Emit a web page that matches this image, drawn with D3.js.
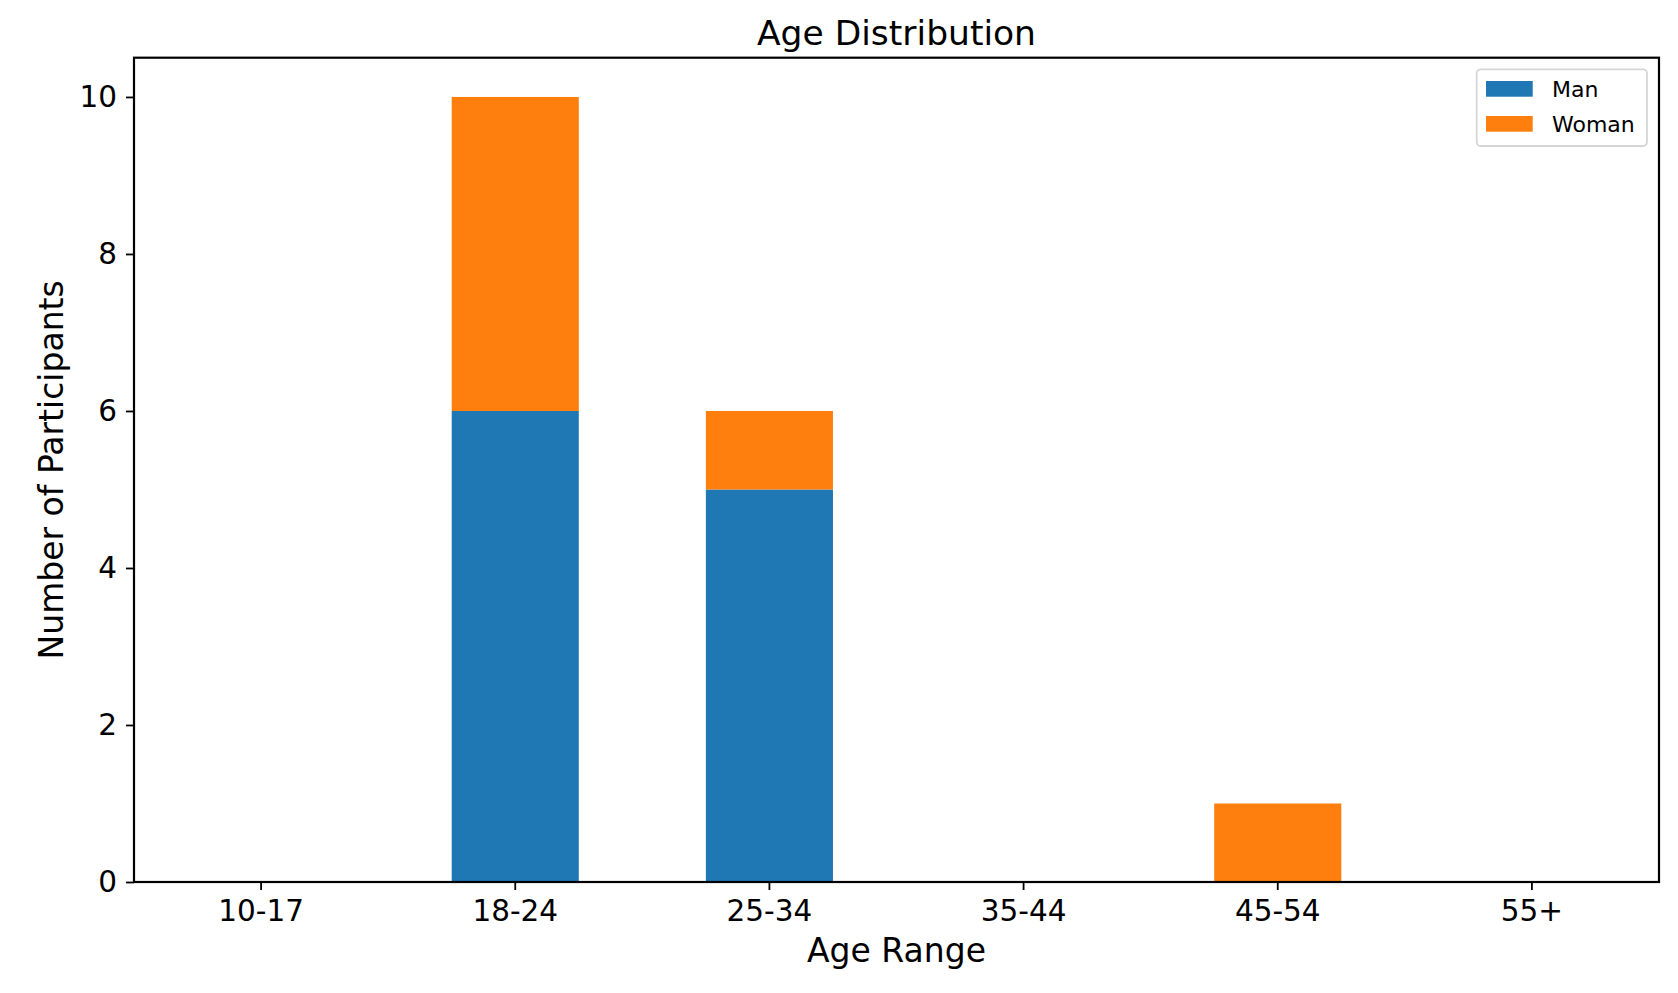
<!DOCTYPE html>
<html>
<head>
<meta charset="utf-8">
<script src="https://cdn.jsdelivr.net/npm/d3@7"></script>
<style>
  body { margin: 0; background: #fff; }
  svg { display: block; font-family: "DejaVu Sans", sans-serif; }
  .axis path, .axis line { stroke: #000; }
  .axis text { font-family: "DejaVu Sans", sans-serif; }
</style>
</head>
<body>
<div id="chart"></div>
<script>
var ageRanges = ['10-17', '18-24', '25-34', '35-44', '45-54', '55+'];
var seriesNames = ['Man', 'Woman'];
var manCounts = [0, 6, 5, 0, 0, 0];
var womanCounts = [0, 4, 1, 0, 1, 0];
var yTicks = [0, 2, 4, 6, 8, 10];
var colors = ['#1f77b4', '#ff7f0e'];

var width = 1678,
    height = 993,
    margin = { top: 57.7, right: 19, bottom: 111, left: 134 },
    plotW = width - margin.left - margin.right,
    plotH = height - margin.top - margin.bottom;

var rows = ageRanges.map(function(a, i) {
  return { range: a, Man: manCounts[i], Woman: womanCounts[i] };
});

var svg = d3.select('#chart')
            .append('svg')
              .attr('width', width)
              .attr('height', height)
            .append('g')
              .attr('transform', 'translate(' + margin.left + ',' + margin.top + ')');

// pandas style: bars of width 0.5, xlim -0.5..n-0.5
var x = d3.scaleBand()
          .domain(ageRanges)
          .range([0, plotW])
          .paddingInner(0.5)
          .paddingOuter(0.25);

var y = d3.scaleLinear()
          .domain([0, 10.5])
          .range([plotH, 0]);

var color = d3.scaleOrdinal().domain(seriesNames).range(colors);

var stacked = d3.stack().keys(seriesNames)(rows);

svg.selectAll('.series')
   .data(stacked)
   .enter()
   .append('g')
     .attr('class', 'series')
     .attr('fill', function(d) { return color(d.key); })
   .selectAll('rect')
   .data(function(d) { return d; })
   .enter()
   .append('rect')
     .attr('x', function(d) { return x(d.data.range); })
     .attr('width', x.bandwidth())
     .attr('y', function(d) { return y(d[1]); })
     .attr('height', function(d) { return y(d[0]) - y(d[1]); });

var xAxis = svg.append('g')
               .attr('class', 'axis')
               .attr('transform', 'translate(0,' + plotH + ')')
               .call(d3.axisBottom(x).tickSize(8).tickPadding(10).tickSizeOuter(0));
xAxis.attr('font-family', null);
xAxis.select('.domain').remove();
xAxis.selectAll('line').attr('stroke-width', 1.8);
xAxis.selectAll('text').attr('font-size', 29.5).attr('fill', '#000');

var yAxis = svg.append('g')
               .attr('class', 'axis')
               .call(d3.axisLeft(y).tickValues(yTicks).tickSize(8).tickPadding(9).tickSizeOuter(0));
yAxis.attr('font-family', null);
yAxis.select('.domain').remove();
yAxis.selectAll('line').attr('stroke-width', 1.8);
yAxis.selectAll('text').attr('font-size', 29.5).attr('fill', '#000');

// frame
svg.append('rect')
   .attr('width', plotW)
   .attr('height', plotH)
   .attr('fill', 'none')
   .attr('stroke', '#000')
   .attr('stroke-width', 2.2);

svg.append('text')
   .attr('x', plotW / 2)
   .attr('y', -12.7)
   .attr('text-anchor', 'middle')
   .attr('font-size', 34.5)
   .text('Age Distribution');

svg.append('text')
   .attr('x', plotW / 2)
   .attr('y', 961.7 - margin.top)
   .attr('text-anchor', 'middle')
   .attr('font-size', 33)
   .text('Age Range');

svg.append('text')
   .attr('transform', 'translate(' + (62.7 - margin.left) + ',' + (plotH / 2) + ') rotate(-90)')
   .attr('text-anchor', 'middle')
   .attr('font-size', 33)
   .text('Number of Participants');

// legend
var legendG = svg.append('g')
                 .attr('transform', 'translate(' + (1476.7 - margin.left) + ',' + (69.3 - margin.top) + ')');
legendG.append('rect')
       .attr('width', 170.3)
       .attr('height', 76.7)
       .attr('rx', 4)
       .attr('fill', '#fff')
       .attr('fill-opacity', 0.8)
       .attr('stroke', '#d6d6d6')
       .attr('stroke-width', 1.8);

var key = legendG.selectAll('.legend-key')
                 .data(seriesNames)
                 .enter()
                 .append('g')
                 .attr('class', 'legend-key')
                 .attr('transform', function(d, i) {
                   return 'translate(9.3,' + (11.7 + i * 35) + ')';
                 });
key.append('rect')
   .attr('width', 46.7)
   .attr('height', 15.7)
   .attr('fill', function(d) { return color(d); });
key.append('text')
   .attr('x', 66)
   .attr('y', 15.5)
   .attr('font-size', 22)
   .text(function(d) { return d; });
</script>
</body>
</html>
